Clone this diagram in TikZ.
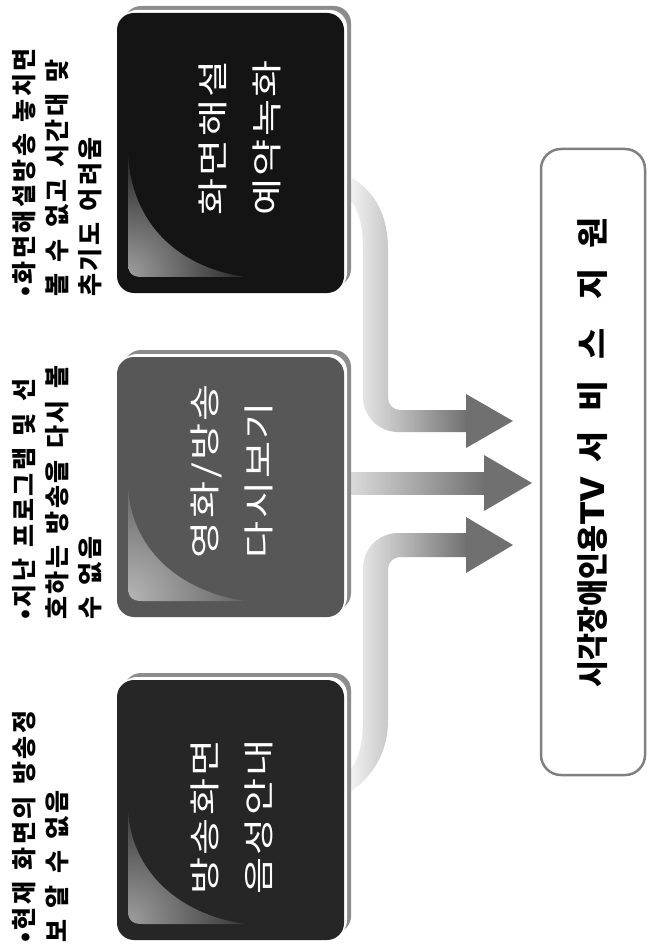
\documentclass[tikz,border=0pt]{standalone}
\usepackage{fontspec}
\usepackage{graphicx}
\newfontfamily\krnote[WordSpace=1.4,LetterSpace=10]{Noto Sans CJK KR}
\newfontfamily\krbox[FakeStretch=1.3,LetterSpace=8]{Noto Sans CJK KR}
\newfontfamily\krtitleA[FakeStretch=0.78]{Noto Sans CJK KR}
\newfontfamily\krtitleT[FakeStretch=1.0]{Noto Sans CJK KR}
\newfontfamily\krtitleB[FakeStretch=0.9,LetterSpace=55]{Noto Sans CJK KR}
\definecolor{rimgray}{HTML}{8C8C8C}
\definecolor{boxA}{HTML}{141414}
\definecolor{boxB}{HTML}{575757}
\definecolor{boxC}{HTML}{262626}
\definecolor{glossA}{HTML}{9C9C9C}
\definecolor{glossB}{HTML}{B4B4B4}
\definecolor{arrlight}{HTML}{F2F2F2}
\definecolor{arrdark}{HTML}{707070}
\definecolor{tgtborder}{HTML}{808080}
\newcommand{\tvbox}[6]{%
  \fill[rimgray, rounded corners=17pt] ({#1+7},{#2-7}) rectangle ({#3+7},{#4-7});
  \fill[white, rounded corners=17pt] ({#1+3},{#2-3}) rectangle ({#3+3},{#4-3});
  \fill[#5, rounded corners=17pt] (#1,#2) rectangle (#3,#4);
  \begin{scope}
    \clip ({#1+11},{(#2+#4)/2}) -- ({#1+11},{#4-30}) .. controls ({#1+11},{#4-20}) and ({#1+15},{#4-16}) .. ({#1+25},{#4-16}) -- ({#1+128},{#4-16}) .. controls ({#1+60},{#4-26}) and ({#1+14},{#4-70}) .. ({#1+11},{(#2+#4)/2}) -- cycle;
    \shade[inner color=#6, outer color=#5] ({#1+12},{#4-20}) circle (135);
  \end{scope}
}
\tikzset{
  note/.style={rotate=90, anchor=north west, align=left, inner sep=0pt,
    font=\krnote\bfseries\fontsize{25}{33}\selectfont},
  boxtext/.style={rotate=90, align=left, inner sep=0pt, text=white,
    font=\krbox\fontsize{31}{54}\selectfont},
  target/.style={rotate=90, draw=tgtborder, line width=2.5pt, rounded corners=20pt,
    fill=white, minimum width=626pt, minimum height=104pt, inner sep=0pt},
  titletext/.style={rotate=90, inner sep=0pt, font=\fontsize{33}{33}\selectfont\bfseries},
  arrowhead/.style={fill=arrdark}
}
\begin{document}
\begin{tikzpicture}[x=1pt,y=-1pt]
\useasboundingbox (0,0) rectangle (650,949);
\fill[white] (0,0) rectangle (650,949);

% arrows (drawn first, boxes cover their starts)
\shade[left color=arrlight, right color=arrdark]
  (352,178) .. controls (375,192) and (388,215) .. (388,250) -- (388,398)
  .. controls (388,404.6) and (393.4,410) .. (400,410) -- (467,410) -- (467,432) -- (398,432)
  .. controls (378.7,432) and (363,416.3) .. (363,397) -- (363,250)
  .. controls (363,225) and (358,208) .. (350,200) -- cycle;
\fill[arrowhead] (466,394) -- (513,421) coordinate (tip1) -- (466,448) -- cycle;

\shade[left color=arrlight!92!black, right color=arrdark] (345,472) rectangle (485,494);
\fill[arrowhead] (484,455) -- (532,483) coordinate (tip2) -- (484,511) -- cycle;

\shade[left color=arrlight, right color=arrdark]
  (467,533) -- (398,533) .. controls (378.7,533) and (363,548.7) .. (363,568) -- (363,720)
  .. controls (363,745) and (358,760) .. (350,770) -- (350,792)
  .. controls (375,775) and (388,750) .. (388,720) -- (388,569)
  .. controls (388,562.4) and (393.4,557) .. (400,557) -- (467,557) -- cycle;
\fill[arrowhead] (466,517) -- (513,545) coordinate (tip3) -- (466,573) -- cycle;

% boxes
\tvbox{117}{13}{344}{293}{boxA}{glossA}
\tvbox{117}{357}{344}{617}{boxB}{glossB}
\tvbox{117}{680}{344}{940}{boxC}{glossA}

\node[boxtext] (t1) at (240,138) {화면해설\\예약녹화};
\node[boxtext] (t2) at (232,471) {영화/방송\\다시보기};
\node[boxtext] (t3) at (232,817) {방송화면\\음성안내};

% notes
\node[note] (n1) at (12,297) {•화면해설방송 놓치면\\볼 수 없고 시간대 맞\\추기도 어려움};
\node[note] (n2) at (12,620) {•지난 프로그램 및 선\\호하는 방송을 다시 볼\\수 없음};
\node[note] (n3) at (12,943) {•현재 화면의 방송정\\보 알 수 없음};

% target box
\node[target] (target) at (593,462) {};
\node[titletext] (title) at (593,452)
  {\resizebox*{470pt}{30pt}{{\krtitleA 시각장애인용}{\krtitleT TV} {\krtitleB 서비스 지원}}};
\end{tikzpicture}
\end{document}
